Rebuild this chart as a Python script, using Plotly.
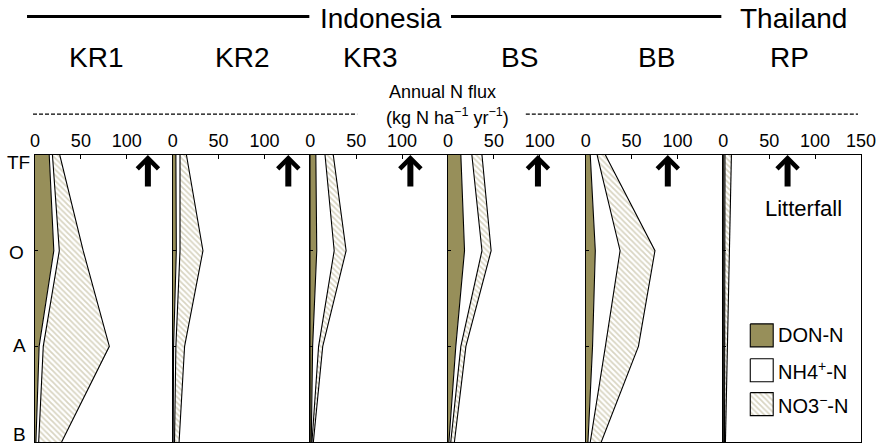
import plotly.graph_objects as go

# ---------------- data ----------------
sites = ["KR1", "KR2", "KR3", "BS", "BB", "RP"]
depths = ["TF", "O", "A", "B"]

# annual N flux components (kg N ha-1 yr-1) at each depth, per site
don_n = {
    "KR1": [15.5, 20.5, 4.5, 1.0],
    "KR2": [3.5, 4.0, 1.0, 0.5],
    "KR3": [6.0, 7.0, 2.5, 1.0],
    "BS":  [14.0, 18.0, 8.5, 1.0],
    "BB":  [5.0, 10.5, 7.5, 2.5],
    "RP":  [0.5, 0.5, 0.5, 0.3],
}
nh4_n = {
    "KR1": [3.5, 6.0, 4.5, 3.0],
    "KR2": [4.5, 4.0, 2.5, 1.5],
    "KR3": [10.0, 19.0, 6.5, 0.8],
    "BS":  [12.0, 19.0, 5.5, 2.0],
    "BB":  [7.5, 27.0, 14.0, 2.5],
    "RP":  [1.3, 1.3, 1.2, 1.0],
}
no3_n = {
    "KR1": [8.0, 26.0, 72.0, 25.0],
    "KR2": [7.0, 25.0, 9.5, 5.0],
    "KR3": [9.0, 13.0, 4.5, 1.5],
    "BS":  [11.0, 10.0, 5.5, 4.0],
    "BB":  [9.0, 38.0, 36.0, 12.0],
    "RP":  [7.0, 5.0, 3.0, 1.0],
}
litterfall = [123, 126, 109, 98, 89.5, 70]

x_ticks = [0, 50, 100]
x_ticks_last = [0, 50, 100, 150]
x_range = [0, 150]

# ---------------- styling ----------------
FONT = "Liberation Sans, Arial, sans-serif"
DON_COLOR = "#978f5a"
HATCH_COLOR = "#b3ab86"
HATCH = dict(shape="\\", fgcolor=HATCH_COLOR, bgcolor="white", size=4, solidity=0.45)
W, H = 879, 446
L, R, T, B = 35, 863, 155, 443


def px(xp):
    return (xp - L) / (R - L)


def py(yp):
    return (B - yp) / (B - T)


ypos = list(range(len(depths)))
n = len(sites)
fig = go.Figure()

for i, s in enumerate(sites):
    xa = "x" if i == 0 else f"x{i+1}"
    ya = "y" if i == 0 else f"y{i+1}"
    c1 = don_n[s]
    c2 = [a + b for a, b in zip(c1, nh4_n[s])]
    c3 = [a + b for a, b in zip(c2, no3_n[s])]
    fig.add_trace(go.Scatter(x=c1, y=ypos, xaxis=xa, yaxis=ya, mode="lines",
                             line=dict(color="black", width=1.1),
                             fill="tozerox", fillcolor=DON_COLOR,
                             showlegend=False, hoverinfo="skip"))
    fig.add_trace(go.Scatter(x=c2, y=ypos, xaxis=xa, yaxis=ya, mode="lines",
                             line=dict(color="black", width=1.1),
                             fill="tonextx", fillcolor="white",
                             showlegend=False, hoverinfo="skip"))
    fig.add_trace(go.Scatter(x=c3, y=ypos, xaxis=xa, yaxis=ya, mode="lines",
                             line=dict(color="black", width=1.1),
                             fill="tonextx", fillcolor="white", fillpattern=HATCH,
                             showlegend=False, hoverinfo="skip"))
    d0, d1 = i / n, (i + 1) / n
    xkey = "xaxis" if i == 0 else f"xaxis{i+1}"
    ykey = "yaxis" if i == 0 else f"yaxis{i+1}"
    fig.layout[xkey] = dict(domain=[d0, d1], range=x_range, anchor=ya, side="top",
                            tickvals=x_ticks_last if i == n - 1 else x_ticks,
                            ticks="inside", ticklen=4, tickcolor="black",
                            showline=True, linecolor="black", linewidth=1.3,
                            mirror=True, showgrid=False, zeroline=False,
                            tickfont=dict(family=FONT, size=18, color="black"),
                            fixedrange=True)
    fig.layout[ykey] = dict(domain=[0, 1], range=[len(depths) - 1, 0], anchor=xa,
                            tickvals=[1, 2], ticks="inside", ticklen=3,
                            tickcolor="black", showticklabels=False,
                            showline=True, linecolor="black", linewidth=1.3,
                            mirror=True, showgrid=False, zeroline=False,
                            fixedrange=True)
    # litterfall arrow
    fig.add_annotation(x=litterfall[i], y=0, xref=xa, yref=ya, text="",
                       showarrow=True, ax=0, ay=33, arrowhead=4, arrowsize=0.68,
                       arrowwidth=6, arrowcolor="black", standoff=0)

# overlay axis in pixel units for the legend swatches
fig.layout["xaxis7"] = dict(domain=[0, 1], range=[L, R], anchor="y7", visible=False,
                            fixedrange=True)
fig.layout["yaxis7"] = dict(domain=[0, 1], range=[B, T], anchor="x7", visible=False,
                            fixedrange=True)
legend_items = [("DON-N", 336), ("NH4<sup>+</sup>-N", 371), ("NO3<sup>−</sup>-N", 405)]
sw_x0, sw_x1, sw_h = 752, 775, 23
for k, (lab, yc) in enumerate(legend_items):
    xs = [sw_x0, sw_x1, sw_x1, sw_x0, sw_x0]
    ys = [yc - sw_h / 2, yc - sw_h / 2, yc + sw_h / 2, yc + sw_h / 2, yc - sw_h / 2]
    kw = dict(fill="toself", fillcolor="white")
    if k == 0:
        kw = dict(fill="toself", fillcolor=DON_COLOR)
    elif k == 2:
        kw = dict(fill="toself", fillcolor="white", fillpattern=HATCH)
    fig.add_trace(go.Scatter(x=xs, y=ys, xaxis="x7", yaxis="y7", mode="lines",
                             line=dict(color="black", width=1.1),
                             showlegend=False, hoverinfo="skip", **kw))
    fig.add_annotation(x=px(778), y=py(yc), xref="paper", yref="paper", text=lab,
                       showarrow=False, xanchor="left", yanchor="middle",
                       font=dict(family=FONT, size=20, color="black"))

# text annotations
def txt(s, xp, yp, size, xanchor="center"):
    fig.add_annotation(x=px(xp), y=py(yp), xref="paper", yref="paper", text=s,
                       showarrow=False, xanchor=xanchor, yanchor="middle",
                       font=dict(family=FONT, size=size, color="black"))

txt("Indonesia", 382, 18, 28)
txt("Thailand", 795, 18, 28)
site_x = [96, 243, 371, 521, 658, 791]
for s, xp in zip(sites, site_x):
    txt(s, xp, 57, 28)
txt("Annual N flux", 443, 92, 18)
txt("(kg N ha<sup>−1</sup> yr<sup>−1</sup>)", 448, 116, 18)
txt("Litterfall", 805, 209, 22)
for lab, xp, yp in [("TF", 18, 163), ("O", 16, 253), ("A", 19, 346), ("B", 19, 435)]:
    txt(lab, xp, yp, 19)

# header lines
shapes = [
    dict(type="line", xref="paper", yref="paper", x0=px(27), x1=px(310), y0=py(16), y1=py(16),
         line=dict(color="black", width=3)),
    dict(type="line", xref="paper", yref="paper", x0=px(452), x1=px(723), y0=py(16), y1=py(16),
         line=dict(color="black", width=3)),
    dict(type="line", xref="paper", yref="paper", x0=px(33), x1=px(358), y0=py(114), y1=py(114),
         line=dict(color="black", width=1.2, dash="4px,2px")),
    dict(type="line", xref="paper", yref="paper", x0=px(527), x1=px(860), y0=py(114), y1=py(114),
         line=dict(color="black", width=1.2, dash="4px,2px")),
]

fig.update_layout(width=W, height=H, margin=dict(l=L, r=W - R, t=T, b=H - B),
                  paper_bgcolor="white", plot_bgcolor="rgba(0,0,0,0)", shapes=shapes,
                  font=dict(family=FONT, color="black"), showlegend=False)

fig.write_html("out.html", config={"displayModeBar": False},
               post_script="document.body.style.margin='0';document.body.style.padding='0';")
